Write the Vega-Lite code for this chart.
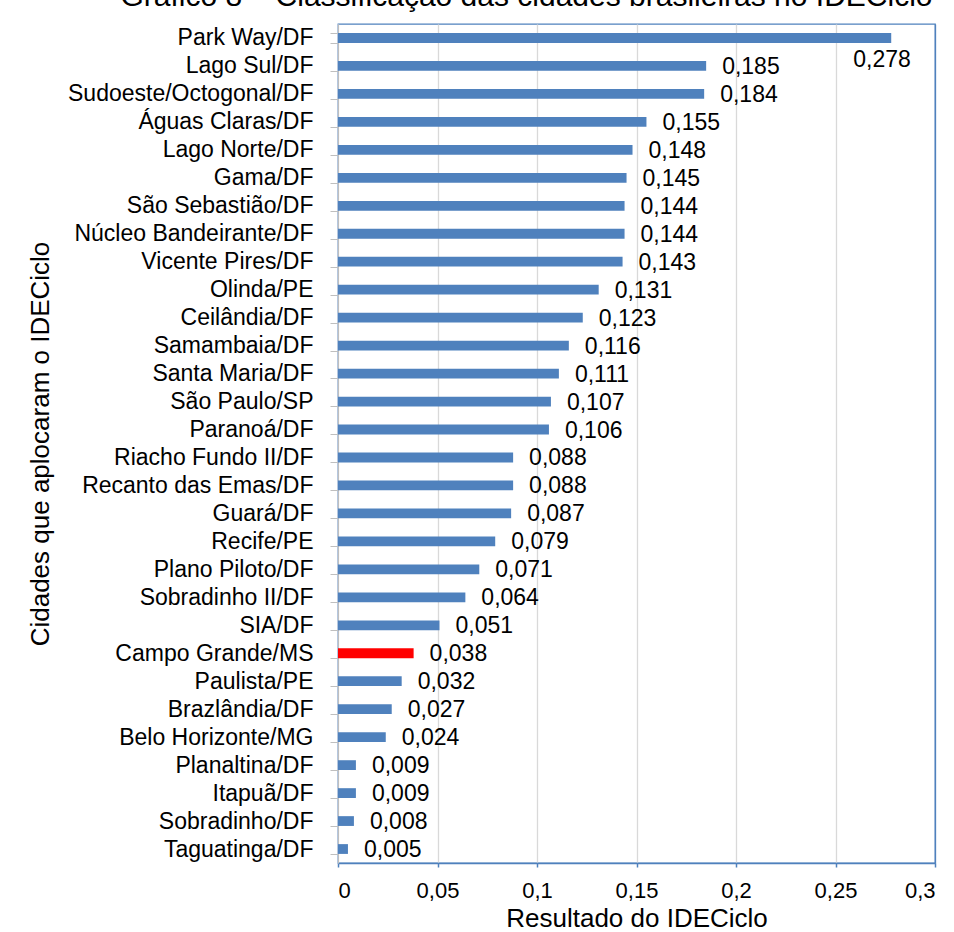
{
  "$schema": "https://vega.github.io/schema/vega-lite/v6.json",
  "width": 597,
  "height": 839,
  "autosize": {"type": "none"},
  "padding": {"left": 338, "top": 24, "right": 19, "bottom": 69},
  "background": "white",
  "title": {
    "text": "Gráfico 8 – Classificação das cidades brasileiras no IDECiclo",
    "fontSize": 30,
    "fontWeight": "normal",
    "color": "black",
    "frame": "group",
    "anchor": "middle",
    "orient": "top",
    "dx": -110,
    "dy": 9,
    "offset": 10
  },
  "data": {
    "values": [
      {"cidade": "Park Way/DF", "valor": 0.278},
      {"cidade": "Lago Sul/DF", "valor": 0.185},
      {"cidade": "Sudoeste/Octogonal/DF", "valor": 0.184},
      {"cidade": "Águas Claras/DF", "valor": 0.155},
      {"cidade": "Lago Norte/DF", "valor": 0.148},
      {"cidade": "Gama/DF", "valor": 0.145},
      {"cidade": "São Sebastião/DF", "valor": 0.144},
      {"cidade": "Núcleo Bandeirante/DF", "valor": 0.144},
      {"cidade": "Vicente Pires/DF", "valor": 0.143},
      {"cidade": "Olinda/PE", "valor": 0.131},
      {"cidade": "Ceilândia/DF", "valor": 0.123},
      {"cidade": "Samambaia/DF", "valor": 0.116},
      {"cidade": "Santa Maria/DF", "valor": 0.111},
      {"cidade": "São Paulo/SP", "valor": 0.107},
      {"cidade": "Paranoá/DF", "valor": 0.106},
      {"cidade": "Riacho Fundo II/DF", "valor": 0.088},
      {"cidade": "Recanto das Emas/DF", "valor": 0.088},
      {"cidade": "Guará/DF", "valor": 0.087},
      {"cidade": "Recife/PE", "valor": 0.079},
      {"cidade": "Plano Piloto/DF", "valor": 0.071},
      {"cidade": "Sobradinho II/DF", "valor": 0.064},
      {"cidade": "SIA/DF", "valor": 0.051},
      {"cidade": "Campo Grande/MS", "valor": 0.038},
      {"cidade": "Paulista/PE", "valor": 0.032},
      {"cidade": "Brazlândia/DF", "valor": 0.027},
      {"cidade": "Belo Horizonte/MG", "valor": 0.024},
      {"cidade": "Planaltina/DF", "valor": 0.009},
      {"cidade": "Itapuã/DF", "valor": 0.009},
      {"cidade": "Sobradinho/DF", "valor": 0.008},
      {"cidade": "Taguatinga/DF", "valor": 0.005}
    ]
  },
  "encoding": {
    "y": {
      "field": "cidade",
      "type": "nominal",
      "sort": null,
      "scale": {"paddingInner": 0.65, "paddingOuter": 0.325},
      "axis": {
        "title": "Cidades que aplocaram o IDECiclo",
        "titleFontSize": 26,
        "titleX": -298,
        "titleY": 419.5,
        "titleAngle": -90,
        "titleAlign": "center",
        "titleBaseline": "middle",
        "domainColor": "#bfbfbf",
        "tickColor": "#bfbfbf",
        "tickSize": 8,
        "tickBand": "extent",
        "labelPadding": 17,
        "labelFontSize": 23,
        "labelLimit": 400
      }
    },
    "x": {
      "field": "valor",
      "type": "quantitative",
      "scale": {"domain": [0, 0.3], "nice": false},
      "axis": {
        "title": "Resultado do IDECiclo",
        "titleFontSize": 26,
        "titleY": 55,
        "titleBaseline": "middle",
        "values": [0, 0.05, 0.1, 0.15, 0.2, 0.25, 0.3],
        "format": "~g",
        "grid": true,
        "gridColor": {"condition": {"test": "datum.value >= 0.3", "value": "#4f81bd"}, "value": "#d9d9d9"},
        "gridWidth": 1.3,
        "domainColor": "#4f81bd",
        "domainWidth": 1.5,
        "tickColor": "#4f81bd",
        "tickWidth": 1.5,
        "tickSize": 4,
        "labelPadding": 13,
        "labelFontSize": 22,
        "encode": {"ticks": {"update": {"y": {"value": -3}, "y2": {"value": 4}}}}
      }
    }
  },
  "layer": [
    {
      "mark": {"type": "bar"},
      "encoding": {
        "color": {
          "condition": {"test": "datum.cidade === 'Campo Grande/MS'", "value": "#ff0000"},
          "value": "#4f81bd"
        }
      }
    },
    {
      "transform": [{"filter": "datum.cidade !== 'Park Way/DF'"}],
      "mark": {"type": "text", "align": "left", "baseline": "middle", "dx": 16, "dy": 1, "fontSize": 23, "color": "black"},
      "encoding": {"text": {"field": "valor", "type": "quantitative", "format": ".3f"}}
    },
    {
      "transform": [{"filter": "datum.cidade === 'Park Way/DF'"}],
      "mark": {"type": "text", "align": "left", "baseline": "middle", "dx": -38, "dy": 22, "fontSize": 23, "color": "black"},
      "encoding": {"text": {"field": "valor", "type": "quantitative", "format": ".3f"}}
    }
  ],
  "config": {
    "font": "Liberation Sans",
    "locale": {"number": {"decimal": ",", "thousands": ".", "grouping": [3], "currency": ["R$", ""]}},
    "view": {"stroke": "#4f81bd", "strokeWidth": 1.3},
    "axis": {"labelColor": "black", "titleColor": "black", "titleFontWeight": "normal"}
  }
}
